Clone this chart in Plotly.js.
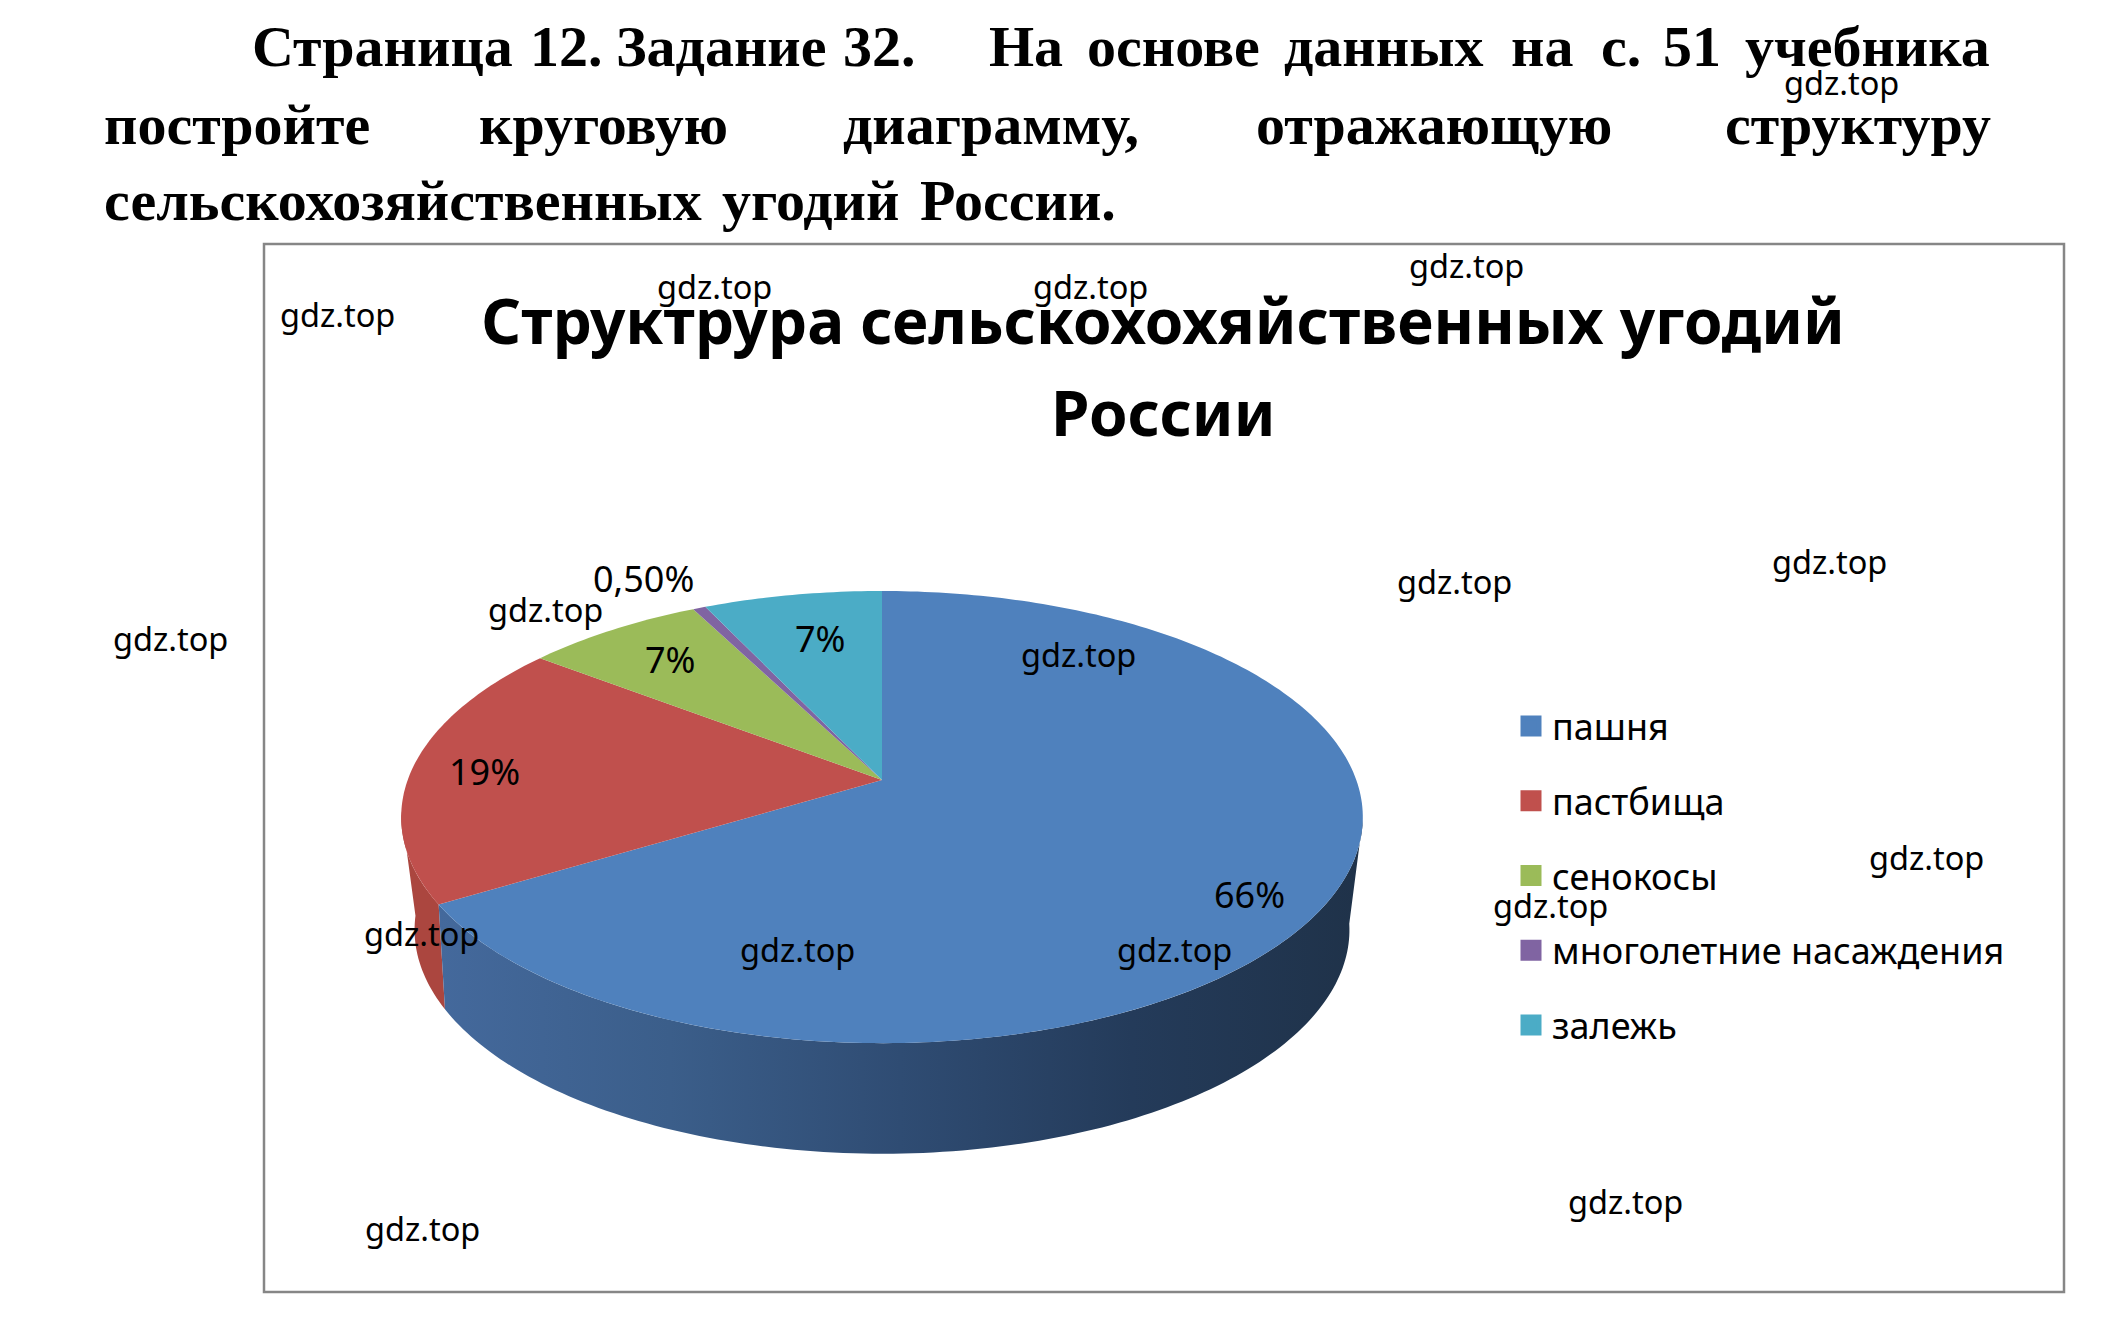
<!DOCTYPE html>
<html><head><meta charset="utf-8">
<script src="https://cdn.plot.ly/plotly-3.0.1.min.js"></script>
<style>html,body{margin:0;padding:0;background:#fff}#c{width:2115px;height:1317px}</style></head>
<body><div id="c"></div>
<script>
const categories = ["пашня","пастбища","сенокосы","многолетние насаждения","залежь"];
const shares = [66,19,7,0.5,7];
const shareLabels = ["66%","19%","7%","0,50%","7%"];
const colors = ["#4f81bd","#c0504d","#9bbb59","#8064a2","#4bacc6"];
const titleLine1 = "<b>Структрура сельскохохяйственных угодий</b>";
const titleLine2 = "<b>России</b>";
const watermark = "gdz.top";
const watermarkAt = [[337,314],[714,286],[1090,286],[1466,265],[1841,82],[1454,581],[1829,561],[170,638],[545,609],[1078,654],[421,933],[797,949],[1174,949],[1550,905],[1926,857],[422,1228],[1625,1201]];
const labelAt = [[1249,894],[484,771],[670,659],[643,578],[820,638]];
const headerLines = [
  [["Страница",251],["12.",529],["Задание",615],["32.",842],["На",988],["основе",1086],["данных",1283],["на",1510],["с.",1600],["51",1662],["учебника",1744]],
  [["постройте",103],["круговую",478],["диаграмму,",842],["отражающую",1255],["структуру",1724]],
  [["сельскохозяйственных",103],["угодий",721],["России.",919]]
];
const headerY = [46,124,200];

const topRing = {cx:882,y0:780,a:474.3,b:220,k:0.164};
const botRing = {cx:882,y0:885,a:458,b:215,k:0.2};
function pt(r,deg){const t=deg*Math.PI/180,u=Math.sin(t),v=Math.cos(t),w=1+r.k*v;return [r.cx+r.a*u/w,r.y0-r.b*v/w];}
function arc(r,a0,a1){const n=Math.max(2,Math.ceil(Math.abs(a1-a0)));const o=[];for(let i=0;i<=n;i++)o.push(pt(r,a0+(a1-a0)*i/n));return o;}
const total=shares.reduce((p,c)=>p+c,0);
const edges=[0];shares.forEach(s=>edges.push(edges[edges.length-1]+s/total*360));

const traces=[];
function wall(a0,a1,extra){
  const pts=arc(topRing,a0,a1).concat(arc(botRing,a1,a0));pts.push(pts[0]);
  traces.push(Object.assign({type:"scatter",mode:"none",fill:"toself",x:pts.map(p=>p[0]),y:pts.map(p=>p[1]),showlegend:false,hoverinfo:"skip"},extra));
}
wall(edges[1],Math.min(edges[2],262),{fillcolor:"#ab463f"});
wall(100,edges[1],{fillcolor:"#2c4669",fillgradient:{type:"horizontal",colorscale:[[0,"#44699c"],[0.25,"#3b5e8a"],[0.5,"#2f4c73"],[0.75,"#243b5a"],[1,"#1f3249"]]}});
shares.forEach((s,i)=>{
  const pts=[[topRing.cx,topRing.y0]].concat(arc(topRing,edges[i],edges[i+1]));pts.push(pts[0]);
  traces.push({type:"scatter",mode:"none",fill:"toself",fillcolor:colors[i],x:pts.map(p=>p[0]),y:pts.map(p=>p[1]),name:categories[i],showlegend:false,text:categories[i],hoverinfo:"text"});
});
categories.forEach((c,i)=>traces.push({type:"scatter",mode:"markers",x:[null],y:[null],name:c,legendgroup:c,
  marker:{symbol:"square",size:16,color:colors[i],line:{color:colors[i],width:5}}}));

const ann=[];
headerLines.forEach((ln,li)=>ln.forEach(w=>ann.push({x:w[1],y:headerY[li],xref:"x",yref:"y",xanchor:"left",yanchor:"middle",showarrow:false,borderpad:0,
  text:"<b>"+w[0]+"</b>",font:{family:"Liberation Serif",size:58,color:"#000"}})));
ann.push({x:1163,y:412,xref:"x",yref:"y",showarrow:false,text:titleLine2,font:{family:"Noto Sans",size:62,color:"#000"}});
shareLabels.forEach((t,i)=>ann.push({x:labelAt[i][0],y:labelAt[i][1],xref:"x",yref:"y",showarrow:false,text:t,font:{family:"Noto Sans",size:36,color:"#000"}}));
watermarkAt.forEach(p=>ann.push({x:p[0],y:p[1],xref:"x",yref:"y",showarrow:false,text:watermark,font:{family:"Noto Sans",size:32.5,color:"#000"}}));

const layout={width:2115,height:1317,margin:{l:0,r:0,t:0,b:0},paper_bgcolor:"#fff",plot_bgcolor:"#fff",
  xaxis:{range:[0,2115],visible:false,fixedrange:true},
  yaxis:{range:[1317,0],visible:false,fixedrange:true},
  title:{text:titleLine1,x:1163/2115,xanchor:"center",y:1-322/1317,yanchor:"middle",yref:"paper",font:{family:"Noto Sans",size:62,color:"#000"}},
  showlegend:true,
  legend:{x:1510/2115,y:1-696/1317,xanchor:"left",yanchor:"top",tracegroupgap:25,bgcolor:"rgba(0,0,0,0)",itemwidth:32,font:{family:"Noto Sans",size:36,color:"#000"}},
  shapes:[{type:"rect",xref:"x",yref:"y",x0:264,x1:2064,y0:244,y1:1292,line:{color:"#868686",width:2.5},fillcolor:"rgba(0,0,0,0)",layer:"below"}],
  annotations:ann};
Plotly.newPlot("c",traces,layout,{displayModeBar:false});
</script></body></html>
